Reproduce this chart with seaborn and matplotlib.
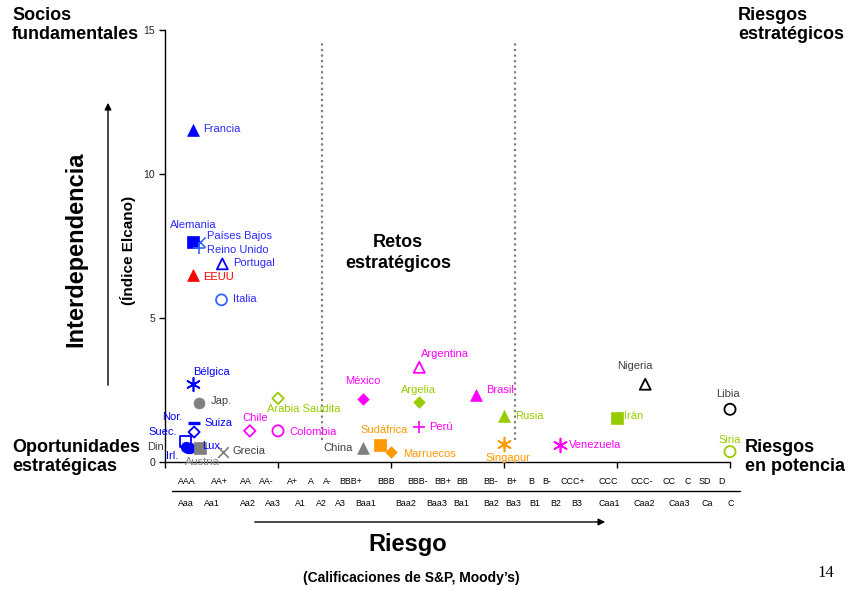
import numpy as np
import pandas as pd
import matplotlib
matplotlib.use("Agg")
import matplotlib.pyplot as plt
import seaborn as sns
from matplotlib.lines import Line2D

# ---------------- data ----------------
paises = ["Francia", "Países Bajos", "Alemania", "Reino Unido", "Portugal", "EEUU", "Italia",
          "Bélgica", "Jap.", "Suiza", "Nor.", "Suec.", "Din.", "Lux.", "Irl.", "Austria", "Grecia",
          "Chile", "Colombia", "Arabia Saudita", "México", "Argentina", "Argelia", "Brasil",
          "Rusia", "Perú", "Sudáfrica", "Marruecos", "China", "Singapur", "Nigeria", "Libia",
          "Irán", "Venezuela", "Siria"]
riesgo = [1.0, 1.24, 1.0, 1.2, 2.03, 1.0, 2.0,
          1.0, 1.2, 1.02, 1.03, 0.73, 0.76, 0.83, 0.88, 1.24, 2.07,
          3.0, 4.0, 4.0, 7.0, 9.0, 9.0, 11.0,
          12.0, 9.0, 7.6, 8.0, 7.0, 12.0, 17.0, 20.0,
          16.0, 14.0, 20.0]
interdependencia = [11.53, 7.63, 7.63, 7.43, 6.88, 6.49, 5.63,
                    2.71, 2.06, 1.37, 1.04, 0.70, 0.52, 0.50, 0.50, 0.47, 0.36,
                    1.08, 1.08, 2.21, 2.19, 3.29, 2.09, 2.33,
                    1.60, 1.20, 0.59, 0.34, 0.47, 0.63, 2.70, 1.83,
                    1.54, 0.59, 0.36]

sp_labels = ["AAA", "AA+", "AA", "AA-", "A+", "A", "A-", "BBB+", "BBB", "BBB-", "BB+", "BB",
             "BB-", "B+", "B", "B-", "CCC+", "CCC", "CCC-", "CC", "C", "SD", "D"]
moody_labels = ["Aaa", "Aa1", "Aa2", "Aa3", "A1", "A2", "A3", "Baa1", "Baa2", "Baa3", "Ba1",
                "Ba2", "Ba3", "B1", "B2", "B3", "Caa1", "Caa2", "Caa3", "Ca", "C"]
divisiones = [5.56, 12.39]
y_ticks = [0, 5, 10, 15]
x_ticks = [0, 4, 8, 12, 16, 20]

# ---------------- styles / layout ----------------
BLUE = "#0000ff"; LBLUE = "#3366ff"; TBLUE = "#2b2bff"; RED = "#ff0000"; MAG = "#ff00ff"
YG = "#99cc00"; ORA = "#ff9900"; GREY = "#808080"; DGREY = "#404040"; BLK = "#000000"
AST = (6, 2, 0)
# marker, colour, filled, size
estilo = {
    "Francia": ("^", BLUE, True, 72), "Alemania": ("s", BLUE, True, 64),
    "Países Bajos": ("x", LBLUE, None, 55), "Reino Unido": ("+", LBLUE, None, 65),
    "Portugal": ("^", BLUE, False, 62), "EEUU": ("^", RED, True, 72),
    "Italia": ("o", LBLUE, False, 62), "Bélgica": (AST, BLUE, None, 95),
    "Jap.": ("o", GREY, True, 62), "Suiza": ("_", BLUE, None, 75),
    "Nor.": ("D", BLUE, False, 32), "Suec.": ("s", BLUE, False, 60),
    "Din.": ("o", BLUE, True, 58), "Lux.": ("o", BLUE, True, 58), "Irl.": ("o", BLUE, True, 58),
    "Austria": ("s", GREY, True, 64), "Grecia": ("x", GREY, None, 58),
    "Chile": ("D", MAG, False, 34), "Colombia": ("o", MAG, False, 64),
    "Arabia Saudita": ("D", YG, False, 34), "México": ("D", MAG, True, 34),
    "Argentina": ("^", MAG, False, 64), "Argelia": ("D", YG, True, 34),
    "Brasil": ("^", MAG, True, 72), "Rusia": ("^", YG, True, 72), "Perú": ("+", MAG, None, 65),
    "Sudáfrica": ("s", ORA, True, 64), "Marruecos": ("D", ORA, True, 34),
    "China": ("^", GREY, True, 72), "Singapur": (AST, ORA, None, 100),
    "Nigeria": ("^", BLK, False, 62), "Libia": ("o", BLK, False, 64),
    "Irán": ("s", YG, True, 64), "Venezuela": (AST, MAG, None, 100),
    "Siria": ("o", YG, False, 64),
}
# label: dx, dy (pixels, up positive), ha, colour
etiqueta = {
    "Francia": (10, 1, "left", TBLUE), "Alemania": (0, 17, "center", TBLUE),
    "Países Bajos": (7, 6, "left", TBLUE), "Reino Unido": (8, -2, "left", TBLUE),
    "Portugal": (11, 1, "left", TBLUE), "EEUU": (10, -2, "left", RED),
    "Italia": (12, 1, "left", TBLUE), "Bélgica": (0, 12, "left", BLUE),
    "Jap.": (12, 2, "left", DGREY), "Suiza": (11, 0, "left", BLUE),
    "Nor.": (-12, 15, "right", BLUE), "Suec.": (-9, 10, "right", BLUE),
    "Din.": (-20, 0, "right", DGREY), "Lux.": (14, 2, "left", BLUE),
    "Irl.": (-12, -8, "right", BLUE), "Austria": (2, -14, "center", GREY),
    "Grecia": (9, 1, "left", DGREY), "Chile": (5, 13, "center", MAG),
    "Colombia": (11, -1, "left", MAG), "Arabia Saudita": (26, -11, "center", YG),
    "México": (0, 18, "center", MAG), "Argentina": (26, 13, "center", MAG),
    "Argelia": (-1, 12, "center", YG), "Brasil": (10, 5, "left", MAG),
    "Rusia": (11, 0, "left", YG), "Perú": (10, 0, "left", MAG),
    "Sudáfrica": (4, 15, "center", ORA), "Marruecos": (12, -2, "left", ORA),
    "China": (-10, 0, "right", DGREY), "Singapur": (4, -14, "center", ORA),
    "Nigeria": (-10, 18, "center", DGREY), "Libia": (-2, 15, "center", DGREY),
    "Irán": (7, 2, "left", YG), "Venezuela": (8, 0, "left", MAG),
    "Siria": (0, 12, "center", YG),
}
sp_px = [187, 219, 246, 266, 292, 311, 327, 351, 386, 418, 443, 462, 491, 512, 531, 547,
         573, 608, 642, 669, 688, 705, 721]
moody_px = [186, 212, 248, 273, 300, 321, 340, 366, 406, 437, 461, 491, 513, 535, 556, 577,
            609, 644, 679, 707, 731]

df = pd.DataFrame({"pais": paises, "riesgo": riesgo, "interdependencia": interdependencia})

sns.set_style("white")
plt.rcParams["font.family"] = ["Liberation Sans", "DejaVu Sans"]

W, H = 853, 590
fig = plt.figure(figsize=(W / 100, H / 100), dpi=100)
ax = fig.add_axes([165 / W, 1 - 462 / H, 565 / W, 432 / H])


def fx(px):
    return px / W


def fy(py):
    return 1 - py / H


for d in divisiones:
    ax.plot([d, d], [0.76, 14.58], color=GREY, linestyle=(0, (1, 1.5)), lw=1.6, zorder=1)

for _, row in df.iterrows():
    m, c, filled, s = estilo[row.pais]
    sub = df[df.pais == row.pais]
    kw = dict(data=sub, x="riesgo", y="interdependencia", marker=m, s=s, ax=ax,
              legend=False, zorder=3, clip_on=False)
    if filled is True:
        sns.scatterplot(color=c, edgecolor=c, linewidth=0.5, **kw)
    elif filled is False:
        sns.scatterplot(color=c, facecolor="none", edgecolor=c, linewidth=1.3, **kw)
    else:
        lw = 2.4 if m == "_" else 1.2
        sns.scatterplot(color=c, linewidth=lw, **kw)
    dx, dy, ha, tc = etiqueta[row.pais]
    ax.annotate(row.pais, (row.riesgo, row.interdependencia), xytext=(dx, dy),
                textcoords="offset pixels", ha=ha, va="center", fontsize=8, color=tc,
                annotation_clip=False, zorder=4)

ax.set_xlim(0, 20)
ax.set_ylim(0, 15)
ax.set_xticks(x_ticks)
ax.set_xticklabels([])
ax.set_yticks(y_ticks)
ax.set_yticklabels([str(t) for t in y_ticks], fontsize=7.5)
ax.set_xlabel("")
ax.set_ylabel("")
ax.tick_params(axis="both", direction="out", length=4, width=1, color="black",
               left=True, bottom=True, pad=3)
for side in ["top", "right"]:
    ax.spines[side].set_visible(False)
for side in ["left", "bottom"]:
    ax.spines[side].set_color("black")
    ax.spines[side].set_linewidth(1)
ax.set_facecolor("white")

# rating rows
for lab, px in zip(sp_labels, sp_px):
    fig.text(fx(px), fy(481), lab, ha="center", va="center", fontsize=6.4, color="black")
for lab, px in zip(moody_labels, moody_px):
    fig.text(fx(px), fy(503), lab, ha="center", va="center", fontsize=6.4, color="black")
fig.add_artist(Line2D([fx(172), fx(740)], [fy(491), fy(491)], color="black", lw=1))

# arrows
ax.annotate("", xy=(108, H - 100), xytext=(108, H - 388), xycoords="figure pixels",
            textcoords="figure pixels",
            arrowprops=dict(arrowstyle="-|>", color="black", lw=1, mutation_scale=10))
ax.annotate("", xy=(608, H - 522), xytext=(252, H - 522), xycoords="figure pixels",
            textcoords="figure pixels",
            arrowprops=dict(arrowstyle="-|>", color="black", lw=1, mutation_scale=10))

# quadrant texts
bold = dict(fontweight="bold", color="black")
fig.text(fx(12), fy(7), "Socios\nfundamentales", ha="left", va="top", fontsize=13,
         linespacing=1.15, **bold)
fig.text(fx(738), fy(7), "Riesgos\nestratégicos", ha="left", va="top", fontsize=13,
         linespacing=1.15, **bold)
fig.text(fx(12), fy(439), "Oportunidades\nestratégicas", ha="left", va="top", fontsize=13,
         linespacing=1.15, **bold)
fig.text(fx(745), fy(439), "Riesgos\nen potencia", ha="left", va="top", fontsize=13,
         linespacing=1.15, **bold)
fig.text(fx(398), fy(253), "Retos\nestratégicos", ha="center", va="center", fontsize=13,
         linespacing=1.3, multialignment="center", **bold)
fig.text(fx(76), fy(249), "Interdependencia", ha="center", va="center", fontsize=17,
         rotation=90, **bold)
fig.text(fx(128), fy(250), "(Índice Elcano)", ha="center", va="center", fontsize=11,
         rotation=90, **bold)
fig.text(fx(408), fy(545), "Riesgo", ha="center", va="center", fontsize=17, **bold)
fig.text(fx(411), fy(578), "(Calificaciones de S&P, Moody’s)", ha="center", va="center",
         fontsize=10, **bold)
fig.text(fx(826), fy(573), "14", ha="center", va="center", fontsize=12,
         family=["Liberation Serif", "DejaVu Serif"], color="black")

fig.savefig("out.png", dpi=100, facecolor="white")
